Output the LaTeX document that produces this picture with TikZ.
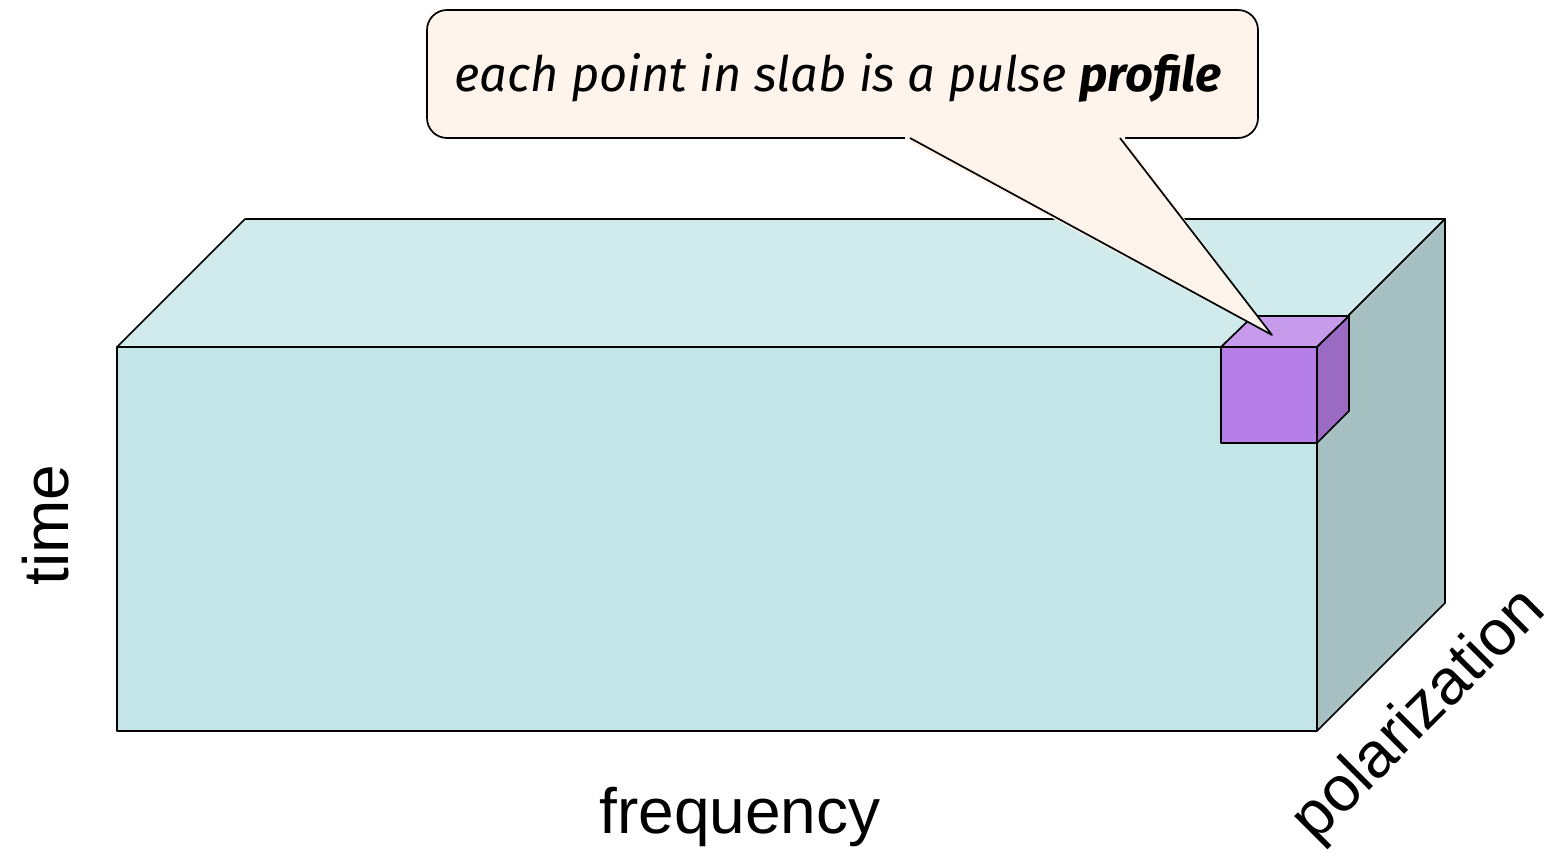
\documentclass[tikz,border=0pt]{standalone}
\usepackage{fontspec}
\setmainfont{Liberation Sans}
\newfontfamily\calloutfont{Fira Sans}
\definecolor{slabfront}{HTML}{C4E5E7}
\definecolor{slabtop}{HTML}{D1EAEB}
\definecolor{slabside}{HTML}{A7C0C2}
\definecolor{cubefront}{HTML}{B67FE7}
\definecolor{cubetop}{HTML}{C69BEC}
\definecolor{cubeside}{HTML}{9B6BC3}
\definecolor{callfill}{HTML}{FEF4EC}
\tikzset{
  face/.style={draw=black, line width=1.7pt, line join=round},
  callbox/.style={draw=black, line width=1.7pt, fill=callfill, rounded corners=20pt, inner sep=0pt},
  axislabel/.style={font=\fontsize{64}{70}\selectfont, inner sep=0pt}
}
\begin{document}
\begin{tikzpicture}[x=1pt,y=-1pt]
\useasboundingbox (0,0) rectangle (1556,853);
% slab
\coordinate (fl) at (117,347);
\coordinate (fr) at (1317,347);
\coordinate (br) at (1317,731);
\coordinate (bl) at (117,731);
\coordinate (tl) at (245,219);
\coordinate (tr) at (1445,219);
\coordinate (sr) at (1445,603);
\fill[slabtop] (fl) -- (tl) -- (tr) -- (fr) -- cycle;
\draw[face] (fl) -- (tl) -- (tr) -- (fr);
\filldraw[face, fill=slabside] (fr) -- (tr) -- (sr) -- (br) -- cycle;
\filldraw[face, fill=slabfront] (fl) -- (fr) -- (br) -- (bl) -- cycle;
% cube
\coordinate (c1) at (1221,347);
\coordinate (c2) at (1317,347);
\coordinate (c3) at (1317,443);
\coordinate (c4) at (1221,443);
\coordinate (c5) at (1253,316);
\coordinate (c6) at (1349,316);
\coordinate (c7) at (1349,411);
\filldraw[face, fill=cubetop] (c1) -- (c5) -- (c6) -- (c2) -- cycle;
\filldraw[face, fill=cubeside] (c2) -- (c6) -- (c7) -- (c3) -- cycle;
\filldraw[face, fill=cubefront] (c1) -- (c2) -- (c3) -- (c4) -- cycle;
% callout
\node[callbox, minimum width=831pt, minimum height=128pt] (call) at (842.5,74) {};
\node[inner sep=0pt] (calltext) at (838,78) {\resizebox{767pt}{!}{\calloutfont\itshape each point in slab is a pulse \textbf{profile}}};
\coordinate (ta) at (910,138);
\coordinate (tb) at (1120,138);
\coordinate (tip) at (1272,335);
\fill[callfill] (905,140) -- (tip) -- (1125,140) -- (1125,134) -- (905,134) -- cycle;
\draw[face] (ta) -- (tip) -- (tb);
% labels
\node[axislabel] (freq) at (740,817) {frequency};
\node[axislabel, rotate=90] (time) at (46,525) {time};
\node[axislabel, rotate=45] (pol) at (1420,716) {polarization};
\end{tikzpicture}
\end{document}
